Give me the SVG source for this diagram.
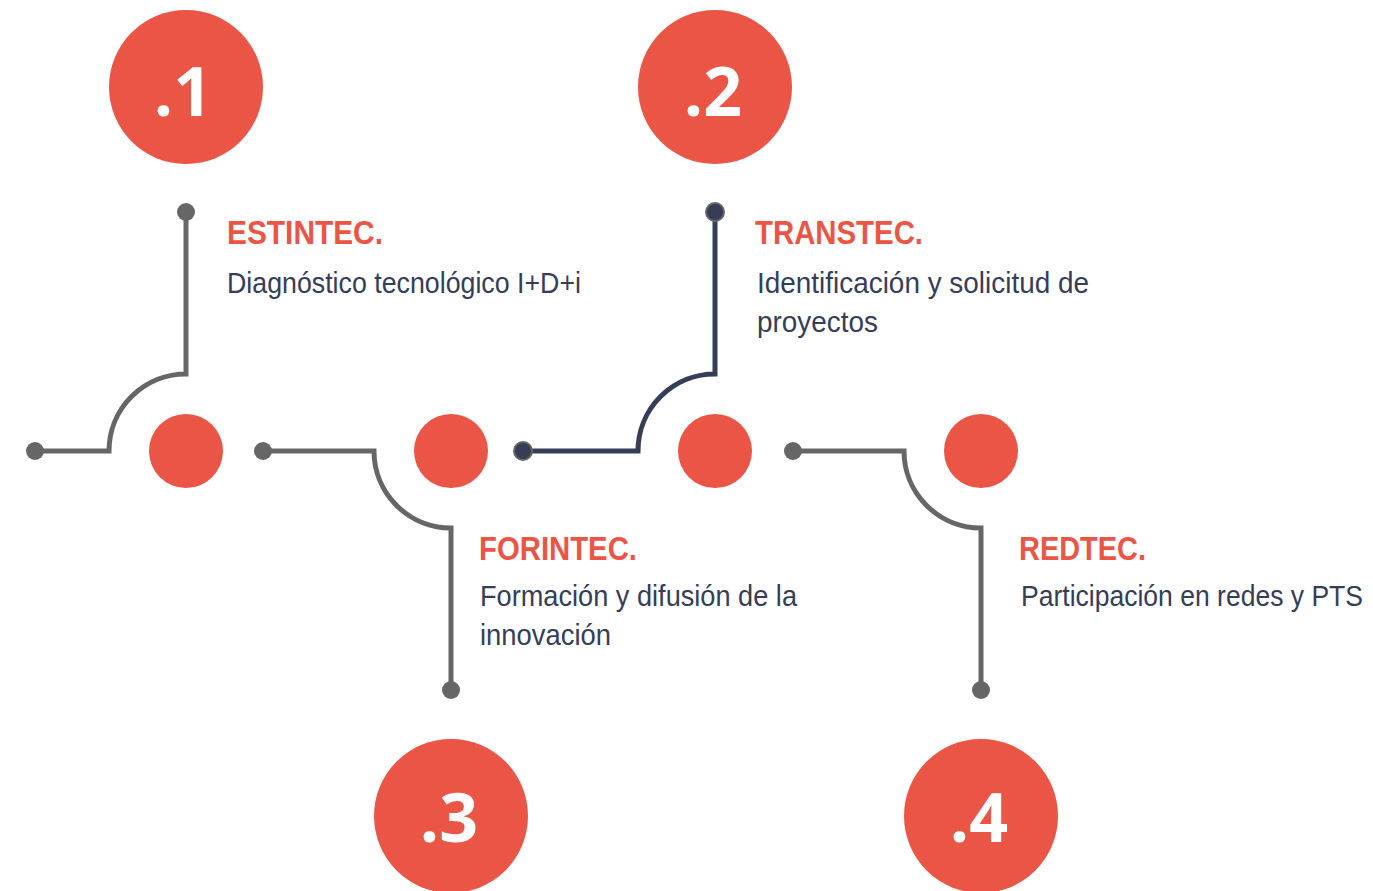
<svg xmlns="http://www.w3.org/2000/svg" width="1373" height="891" viewBox="0 0 1373 891">
<style>
.big{fill:#EA5546}
.small{fill:#EA5546}
.num{fill:#fff;font-family:"Open Sans","Liberation Sans",sans-serif;font-weight:700;font-size:68px;text-anchor:middle}
.title{fill:#EA5546;font-family:"Liberation Sans",Arial,sans-serif;font-weight:bold;font-size:34px}
.body{fill:#363D57;font-family:"Liberation Sans",Arial,sans-serif;font-size:29px}
.wire{fill:none;stroke:#666666;stroke-width:5}
.wire.navy{stroke:#363D57}
.dot{fill:#666666}
.ndot{fill:#363D57;stroke:#666666;stroke-width:2}
</style>
<rect width="1373" height="891" fill="#ffffff"/>
<g id="connectors">
<path class="wire" d="M186,212 V374 A77,77 0 0 0 109,451 H35"/>
<path class="wire" d="M263,451 H374 A77,77 0 0 0 451,528 V690"/>
<path class="wire navy" d="M523,451 H638 A77,77 0 0 1 715,374 V212"/>
<path class="wire" d="M793,451 H904 A77,77 0 0 0 981,528 V690"/>
<circle class="dot" cx="186" cy="212" r="9"/>
<circle class="dot" cx="35" cy="451" r="9"/>
<circle class="dot" cx="263" cy="451" r="9"/>
<circle class="dot" cx="451" cy="690" r="9"/>
<circle class="ndot" cx="523" cy="451" r="9"/>
<circle class="ndot" cx="715" cy="212" r="9"/>
<circle class="dot" cx="793" cy="451" r="9"/>
<circle class="dot" cx="981" cy="690" r="9"/>
</g>
<g id="node1">
<circle class="big" cx="186" cy="87" r="77"/>
<text class="num" x="183" y="116">.1</text>
<circle class="small" cx="186" cy="451" r="37"/>
<text class="title" x="227" y="244" textLength="156" lengthAdjust="spacingAndGlyphs">ESTINTEC.</text>
<text class="body" x="227" y="293" textLength="354" lengthAdjust="spacingAndGlyphs">Diagnóstico tecnológico I+D+i</text>
</g>
<g id="node2">
<circle class="big" cx="715" cy="87" r="77"/>
<text class="num" x="713" y="116">.2</text>
<circle class="small" cx="715" cy="451" r="37"/>
<text class="title" x="755" y="244" textLength="168" lengthAdjust="spacingAndGlyphs">TRANSTEC.</text>
<text class="body" x="757" y="293" textLength="332" lengthAdjust="spacingAndGlyphs">Identificación y solicitud de</text>
<text class="body" x="757" y="332" textLength="121" lengthAdjust="spacingAndGlyphs">proyectos</text>
</g>
<g id="node3">
<circle class="big" cx="451" cy="816" r="77"/>
<text class="num" x="449" y="842">.3</text>
<circle class="small" cx="451" cy="451" r="37"/>
<text class="title" x="479" y="560" textLength="158" lengthAdjust="spacingAndGlyphs">FORINTEC.</text>
<text class="body" x="480" y="606" textLength="317" lengthAdjust="spacingAndGlyphs">Formación y difusión de la</text>
<text class="body" x="480" y="645" textLength="131" lengthAdjust="spacingAndGlyphs">innovación</text>
</g>
<g id="node4">
<circle class="big" cx="981" cy="816" r="77"/>
<text class="num" x="979" y="842">.4</text>
<circle class="small" cx="981" cy="451" r="37"/>
<text class="title" x="1019" y="560" textLength="127" lengthAdjust="spacingAndGlyphs">REDTEC.</text>
<text class="body" x="1021" y="606" textLength="342" lengthAdjust="spacingAndGlyphs">Participación en redes y PTS</text>
</g>
</svg>
